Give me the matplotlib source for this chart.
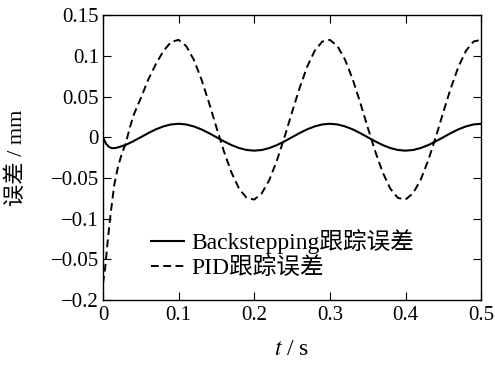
import matplotlib
matplotlib.use("Agg")
import matplotlib.pyplot as plt
import numpy as np

plt.rcParams['font.family'] = ['Liberation Serif', 'Noto Sans CJK SC']
plt.rcParams['mathtext.fontset'] = 'stix'
plt.rcParams['axes.unicode_minus'] = True

# time axis (s) and tracking errors (mm)
t_bs = [0.0, 0.004, 0.008, 0.012, 0.016, 0.02, 0.03, 0.04, 0.05, 0.06, 0.07, 0.08, 0.09,
        0.10, 0.11, 0.12, 0.13, 0.14, 0.15, 0.16, 0.17, 0.18, 0.19, 0.20,
        0.21, 0.22, 0.23, 0.24, 0.25, 0.26, 0.27, 0.28, 0.29, 0.30,
        0.31, 0.32, 0.33, 0.34, 0.35, 0.36, 0.37, 0.38, 0.39, 0.40,
        0.41, 0.42, 0.43, 0.44, 0.45, 0.46, 0.47, 0.48, 0.49, 0.50]
e_bs = [0.0, -0.008, -0.012, -0.0135, -0.0133, -0.0125, -0.0095, -0.005, 0.0, 0.0051, 0.0097, 0.0133, 0.0157,
        0.0165, 0.0157, 0.0133, 0.0097, 0.0051, 0.0, -0.0051, -0.0097, -0.0133, -0.0157, -0.0165,
        -0.0157, -0.0133, -0.0097, -0.0051, 0.0, 0.0051, 0.0097, 0.0133, 0.0157, 0.0165,
        0.0157, 0.0133, 0.0097, 0.0051, 0.0, -0.0051, -0.0097, -0.0133, -0.0157, -0.0165,
        -0.0157, -0.0133, -0.0097, -0.0051, 0.0, 0.0051, 0.0097, 0.0133, 0.0157, 0.0165]

t_pid = [0.0, 0.003, 0.006, 0.01, 0.015, 0.02, 0.025, 0.03, 0.035, 0.04, 0.05, 0.06, 0.07, 0.08, 0.09,
         0.10, 0.11, 0.12, 0.13, 0.14, 0.15, 0.16, 0.17, 0.18, 0.19, 0.20,
         0.21, 0.22, 0.23, 0.24, 0.25, 0.26, 0.27, 0.28, 0.29, 0.30,
         0.31, 0.32, 0.33, 0.34, 0.35, 0.36, 0.37, 0.38, 0.39, 0.40,
         0.41, 0.42, 0.43, 0.44, 0.45, 0.46, 0.47, 0.48, 0.49, 0.50]
e_pid = [-0.18, -0.16, -0.13, -0.095, -0.058, -0.036, -0.02, -0.008, 0.01, 0.026, 0.048, 0.071, 0.09, 0.106, 0.117,
         0.1196, 0.112, 0.0954, 0.0716, 0.043, 0.0122, -0.0176, -0.0436, -0.0633, -0.0746, -0.0766,
         -0.0689, -0.0524, -0.0286, 0.0, 0.0308, 0.0606, 0.0866, 0.1063, 0.1176, 0.1196,
         0.112, 0.0954, 0.0716, 0.043, 0.0122, -0.0176, -0.0436, -0.0633, -0.0746, -0.0766,
         -0.0689, -0.0524, -0.0286, 0.0, 0.0308, 0.0606, 0.0866, 0.1063, 0.1176, 0.1196]

xticks = [0, 0.1, 0.2, 0.3, 0.4, 0.5]
xticklabels = ['0', '0.1', '0.2', '0.3', '0.4', '0.5']
yticks = [0.15, 0.1, 0.05, 0, -0.05, -0.1, -0.15, -0.2]
yticklabels = ['0.15', '0.1', '0.05', '0', '\u22120.05', '\u22120.1', '\u22120.05', '\u22120.2']

fig = plt.figure(figsize=(4.95, 3.69), dpi=100)
ax = fig.add_axes([0.208, 0.187, 0.764, 0.772])

ax.plot(t_bs, e_bs, color='black', lw=1.5, label='Backstepping跟踪误差')
ax.plot(t_pid, e_pid, color='black', lw=1.4, linestyle=(0, (4, 2.3)), label='PID跟踪误差')

ax.set_xlim(0, 0.5)
ax.set_ylim(-0.2, 0.15)
ax.set_xticks(xticks)
ax.set_xticklabels(xticklabels)
ax.set_yticks(yticks)
ax.set_yticklabels(yticklabels)
ax.tick_params(direction='in', top=True, right=True, length=6, width=0.8, labelsize=15)
ax.tick_params(axis='x', pad=4)
ax.tick_params(axis='y', pad=3)
for s in ax.spines.values():
    s.set_linewidth(1.0)

ax.set_xlabel('$t$ / s', fontsize=17, va='center')
ax.xaxis.set_label_coords(0.5, -0.175)
ax.set_ylabel('误差 / mm', fontsize=16, va='center')
ax.yaxis.set_label_coords(-0.228, 0.5)

ax.legend(loc='center left', bbox_to_anchor=(0.127, 0.161), frameon=False, fontsize=17,
          handlelength=1.4, handletextpad=0.3, borderpad=0, borderaxespad=0, labelspacing=0.15)

fig.savefig('out.png', dpi=100)
